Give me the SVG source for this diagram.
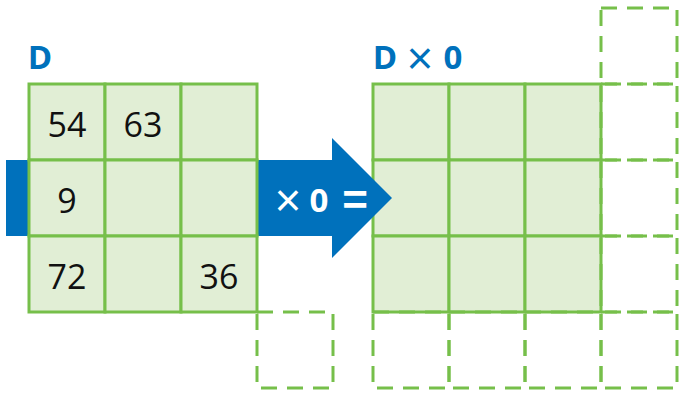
<svg xmlns="http://www.w3.org/2000/svg" width="679" height="395" viewBox="0 0 679 395">
<style>
.cell{fill:#e1eed5;stroke:#76bf4a;stroke-width:3}
.dash{fill:none;stroke:#76bf4a;stroke-width:3;stroke-dasharray:16 10}
.num{font-family:"Open Sans","Liberation Sans",sans-serif;font-size:34px;fill:#111;text-anchor:middle}
.title{font-family:"Open Sans","Liberation Sans",sans-serif;font-size:33px;font-weight:bold;fill:#0071bc;text-anchor:middle}
.op{font-family:"Open Sans","Liberation Sans",sans-serif;font-size:33px;font-weight:bold;fill:#fff;text-anchor:middle}
.x{font-family:"Liberation Sans",sans-serif;font-size:46px;font-weight:normal;text-anchor:middle}
.eq{font-family:"Liberation Sans",sans-serif;font-size:44px;font-weight:bold;text-anchor:middle}
</style>
<g id="resultGrid">
<rect class="cell" x="373" y="84" width="76" height="76"/>
<rect class="cell" x="449" y="84" width="76" height="76"/>
<rect class="cell" x="525" y="84" width="76" height="76"/>
<rect class="cell" x="373" y="160" width="76" height="76"/>
<rect class="cell" x="449" y="160" width="76" height="76"/>
<rect class="cell" x="525" y="160" width="76" height="76"/>
<rect class="cell" x="373" y="236" width="76" height="76"/>
<rect class="cell" x="449" y="236" width="76" height="76"/>
<rect class="cell" x="525" y="236" width="76" height="76"/>
</g>
<g id="resultDashed">
<rect class="dash" x="601" y="8" width="76" height="76"/>
<rect class="dash" x="601" y="84" width="76" height="76"/>
<rect class="dash" x="601" y="160" width="76" height="76"/>
<rect class="dash" x="601" y="236" width="76" height="76"/>
<rect class="dash" x="373" y="312" width="76" height="76"/>
<rect class="dash" x="449" y="312" width="76" height="76"/>
<rect class="dash" x="525" y="312" width="76" height="76"/>
<rect class="dash" x="601" y="312" width="76" height="76"/>
</g>
<g id="connectors">
<polygon points="6,160 332,160 332,138 392,198 332,258 332,236 6,236" fill="#0071bc"/>
<text class="x" x="288" y="216" fill="#fff">×</text>
<text class="op" x="319" y="212">0</text>
<text class="eq" x="355" y="215" fill="#fff">=</text>
</g>
<g id="sourceGrid">
<rect class="cell" x="29" y="84" width="76" height="76"/>
<rect class="cell" x="105" y="84" width="76" height="76"/>
<rect class="cell" x="181" y="84" width="76" height="76"/>
<rect class="cell" x="29" y="160" width="76" height="76"/>
<rect class="cell" x="105" y="160" width="76" height="76"/>
<rect class="cell" x="181" y="160" width="76" height="76"/>
<rect class="cell" x="29" y="236" width="76" height="76"/>
<rect class="cell" x="105" y="236" width="76" height="76"/>
<rect class="cell" x="181" y="236" width="76" height="76"/>
<text class="num" x="67" y="137">54</text>
<text class="num" x="143" y="137">63</text>
<text class="num" x="67" y="213">9</text>
<text class="num" x="67" y="289">72</text>
<text class="num" x="219" y="289">36</text>
</g>
<g id="sourceDashed">
<rect class="dash" x="257" y="312" width="76" height="76"/>
</g>
<g id="titles">
<text class="title" x="40" y="69">D</text>
<text class="title" x="385" y="69">D</text>
<text class="x" x="420" y="74" fill="#0071bc">×</text>
<text class="title" x="453" y="69">0</text>
</g>
</svg>
